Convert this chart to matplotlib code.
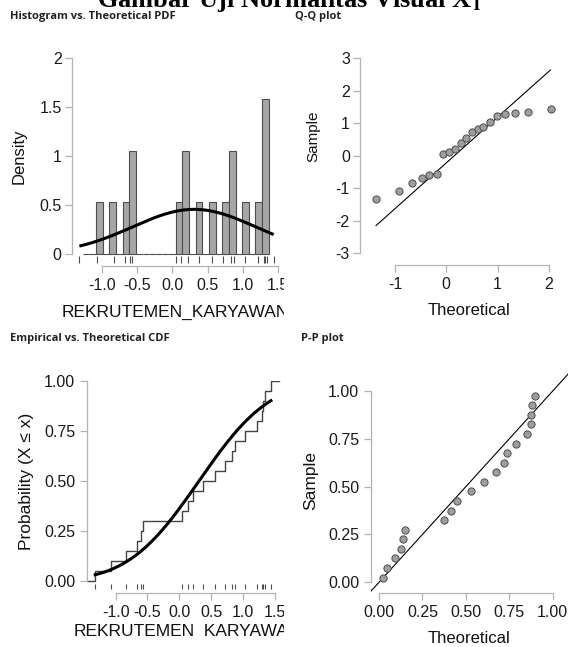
import numpy as np
import matplotlib
matplotlib.use("Agg")
import matplotlib.pyplot as plt
from matplotlib.transforms import Bbox, TransformedBbox
from math import erf

W, H = 568, 647

# values
DATA = [-1.32, -1.07, -0.83, -0.67, -0.60, -0.57, 0.05, 0.13, 0.22, 0.38,
        0.56, 0.72, 0.83, 0.88, 1.03, 1.22, 1.30, 1.32, 1.34, 1.44]
MU, SIGMA = 0.31, 0.875

BIN_START = -1.273
BIN_WIDTH = 0.0944
HIST_DENSITY = [0, 0, 0.53, 0, 0.53, 0, 0.53, 1.05, 0, 0, 0, 0, 0, 0,
                0.53, 1.05, 0, 0.53, 0, 0.53, 0, 0.53, 1.05, 0, 0.53, 0, 0.53, 1.58]

QQ_THEORETICAL = [-1.37, -0.92, -0.67, -0.48, -0.33, -0.19, -0.06, 0.05, 0.17, 0.28,
                  0.39, 0.50, 0.61, 0.72, 0.85, 0.99, 1.14, 1.33, 1.59, 2.04]
QQ_LINE_X = [-1.37, 2.03]
QQ_LINE_Y = [-2.15, 2.64]

PP_THEORETICAL = [0.025, 0.048, 0.09, 0.125, 0.14, 0.148, 0.376, 0.416, 0.449, 0.53,
                  0.606, 0.672, 0.718, 0.735, 0.787, 0.85, 0.873, 0.875, 0.879, 0.90]
PP_SAMPLE = [0.025, 0.075, 0.125, 0.175, 0.225, 0.275, 0.325, 0.375, 0.425, 0.475,
             0.525, 0.575, 0.625, 0.675, 0.725, 0.775, 0.825, 0.875, 0.925, 0.975]
PP_LINE = [-0.06, 1.25]

ECDF_RANGE = (-1.47, 1.56)

XLABEL = "REKRUTEMEN_KARYAWAN"

plt.rcParams["font.family"] = ["Liberation Sans", "DejaVu Sans"]
plt.rcParams["axes.unicode_minus"] = False
plt.rcParams["mathtext.fontset"] = "stix"

GREY = "#b3b3b3"

fig = plt.figure(figsize=(W / 100, H / 100), dpi=100)


def px_axes(left, top, right, bottom):
    return fig.add_axes([left / W, 1 - bottom / H, (right - left) / W, (bottom - top) / H])


def fx(x):
    return x / W


def fy(y):
    return 1 - y / H


def clip_box(x0, y0, x1, y1):
    return TransformedBbox(Bbox([[fx(x0), fy(y1)], [fx(x1), fy(y0)]]), fig.transFigure)


def style(ax, xbounds, ybounds, xticks, xlabels, yticks, ylabels):
    for s in ["top", "right"]:
        ax.spines[s].set_visible(False)
    for s in ["left", "bottom"]:
        ax.spines[s].set_color(GREY)
        ax.spines[s].set_linewidth(0.9)
    ax.spines["left"].set_bounds(*ybounds)
    ax.spines["bottom"].set_bounds(*xbounds)
    ax.set_xticks(xticks, xlabels)
    ax.set_yticks(yticks, ylabels)
    ax.tick_params(length=4.8, width=0.9, color=GREY, labelsize=11.5,
                   labelcolor="#1a1a1a")
    ax.tick_params(axis="y", pad=2.5)
    ax.tick_params(axis="x", pad=4)
    ax.patch.set_visible(False)


def labels(ax, xlab, xpos, xsize, ylab, ypos, ysize):
    ax.set_xlabel(xlab, fontsize=xsize, color="#111111")
    ax.xaxis.set_label_coords(fx(xpos[0]), fy(xpos[1]), transform=fig.transFigure)
    ax.xaxis.label.set_va("center")
    ax.set_ylabel(ylab, fontsize=ysize, color="#111111")
    ax.yaxis.set_label_coords(fx(ypos[0]), fy(ypos[1]), transform=fig.transFigure)
    ax.yaxis.label.set_va("center")


def clip_texts(ax, box):
    for t in ax.xaxis.get_major_ticks():
        t.label1.set_clip_box(box)
        t.label1.set_clip_on(True)
    ax.xaxis.label.set_clip_box(box)
    ax.xaxis.label.set_clip_on(True)


def panel_title(x, y, text):
    fig.text(fx(x), fy(y), text, fontsize=8.0, fontweight="bold",
             family=["Open Sans", "DejaVu Sans"], color="#222222", ha="left", va="center")


# main title, cut by the top edge as in the reference
fig.text(fx(289), fy(6.5), r"Gambar Uji Normalitas Visual X$_\mathbf{1}$", fontsize=19,
         fontweight="bold", family=["Liberation Serif"], ha="center", va="baseline")

x_fit = np.linspace(min(DATA), max(DATA), 300)
pdf_fit = np.exp(-0.5 * ((x_fit - MU) / SIGMA) ** 2) / (SIGMA * np.sqrt(2 * np.pi))
cdf_fit = np.array([0.5 * (1 + erf((v - MU) / (SIGMA * np.sqrt(2)))) for v in x_fit])

# --- Histogram vs. Theoretical PDF
panel_title(10, 16.5, "Histogram vs. Theoretical PDF")
ax1 = px_axes(71.7, 58.3, 283, 265.7)
ax1.set_xlim(-1.429, 1.572)
ax1.set_ylim(-0.12, 2.0)
lefts = BIN_START + BIN_WIDTH * np.arange(len(HIST_DENSITY))
ax1.bar(lefts, HIST_DENSITY, width=BIN_WIDTH, align="edge", color="#a6a6a6",
        edgecolor="#4d4d4d", linewidth=0.8)
ax1.plot(x_fit, pdf_fit, color="black", lw=2.2, solid_capstyle="butt")
ax1.vlines(DATA, -0.092, -0.02, color="#4d4d4d", lw=0.8)
style(ax1, (-1.0, 1.5), (0, 2), [-1.0, -0.5, 0.0, 0.5, 1.0, 1.5],
      ["-1.0", "-0.5", "0.0", "0.5", "1.0", "1.5"],
      [0, 0.5, 1, 1.5, 2], ["0", "0.5", "1", "1.5", "2"])
labels(ax1, XLABEL, (175, 312), 12.5, "Density", (19, 156), 12)
clip_texts(ax1, clip_box(0, 0, 284, 323))

# --- Q-Q plot
panel_title(295, 16.5, "Q-Q plot")
ax2 = px_axes(360, 58.3, 578, 265)
ax2.set_xlim(-1.682, 2.567)
ax2.set_ylim(-3.363, 3.0)
ax2.plot(QQ_LINE_X, QQ_LINE_Y, color="black", lw=0.8)
ax2.plot(QQ_THEORETICAL, DATA, "o", ms=5.2, mfc="#9e9e9e", mec="#4d4d4d", mew=0.7)
style(ax2, (-1, 2), (-3, 3), [-1, 0, 1, 2], ["-1", "0", "1", "2"],
      [-3, -2, -1, 0, 1, 2, 3], ["-3", "-2", "-1", "0", "1", "2", "3"])
labels(ax2, "Theoretical", (469, 310), 12, "Sample", (313, 136), 11)

# --- Empirical vs. Theoretical CDF
panel_title(10, 339, "Empirical vs. Theoretical CDF")
ax3 = px_axes(87.3, 381, 285, 592.7)
ax3.set_xlim(-1.444, 1.661)
ax3.set_ylim(-0.0585, 1.0)
n = len(DATA)
step_x = [ECDF_RANGE[0]] + DATA + [ECDF_RANGE[1]]
step_y = [0.0] + list(np.arange(1, n + 1) / n) + [1.0]
ax3.step(step_x, step_y, where="post", color="#444444", lw=1.0)
ax3.plot(x_fit, cdf_fit, color="black", lw=2.2)
ax3.vlines(DATA, -0.04, -0.015, color="#4d4d4d", lw=0.8, clip_on=False)
style(ax3, (-1.0, 1.5), (0, 1), [-1.0, -0.5, 0.0, 0.5, 1.0, 1.5],
      ["-1.0", "-0.5", "0.0", "0.5", "1.0", "1.5"],
      [0, 0.25, 0.5, 0.75, 1.0], ["0.00", "0.25", "0.50", "0.75", "1.00"])
ax3.tick_params(axis="y", pad=4)
labels(ax3, XLABEL, (187.5, 631.5), 12.5, "Probability (X \u2264 x)", (26, 481), 12.5)
clip_texts(ax3, clip_box(0, 323, 284, 637))

# --- P-P plot
panel_title(300.7, 339, "P-P plot")
ax4 = px_axes(371.3, 360, 568, 593)
ax4.set_xlim(-0.0443, 1.088)
ax4.set_ylim(-0.056, 1.162)
ax4.plot(PP_LINE, PP_LINE, color="black", lw=0.8)
ax4.plot(PP_THEORETICAL, PP_SAMPLE, "o", ms=5.2, mfc="#9e9e9e", mec="#4d4d4d", mew=0.7)
style(ax4, (0, 1), (0, 1), [0, 0.25, 0.5, 0.75, 1.0],
      ["0.00", "0.25", "0.50", "0.75", "1.00"],
      [0, 0.25, 0.5, 0.75, 1.0], ["0.00", "0.25", "0.50", "0.75", "1.00"])
ax4.tick_params(axis="y", pad=4)
labels(ax4, "Theoretical", (469, 638.3), 12, "Sample", (311, 480), 12.5)

fig.savefig("out.png", dpi=100)
